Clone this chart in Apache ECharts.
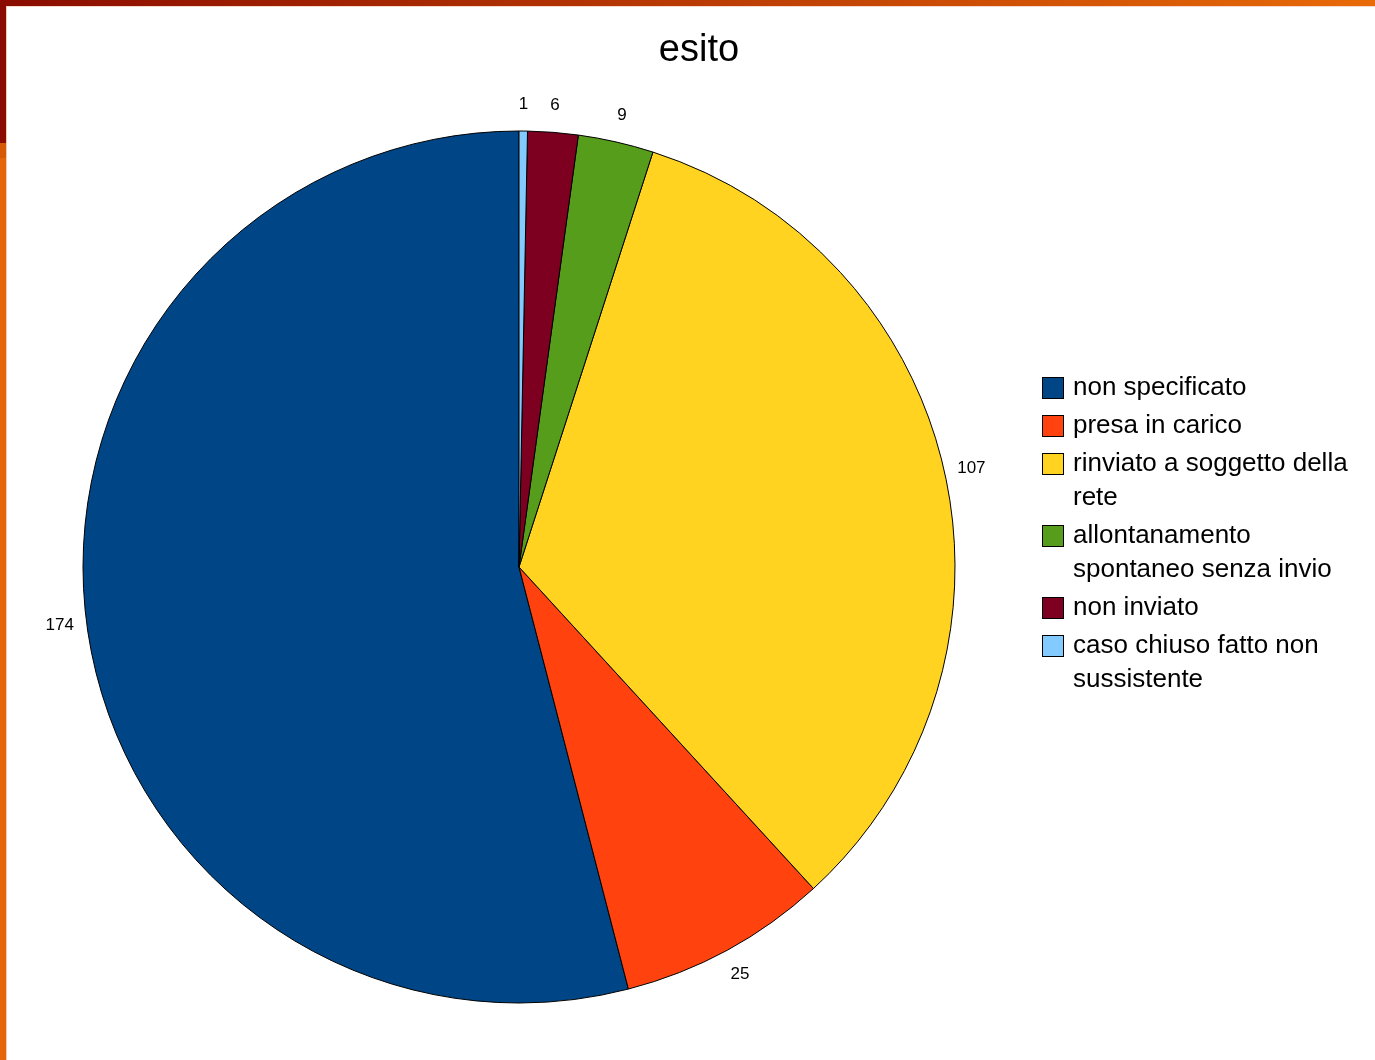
<!DOCTYPE html>
<html>
<head>
<meta charset="utf-8">
<script src="https://cdn.jsdelivr.net/npm/echarts@6/dist/echarts.min.js"></script>
<style>
html,body{margin:0;padding:0;background:#fff;}
#c{width:1375px;height:1060px;}
</style>
</head>
<body>
<div id="c"></div>
<script>
const categories = ['non specificato', 'presa in carico', 'rinviato a soggetto della rete', 'allontanamento spontaneo senza invio', 'non inviato', 'caso chiuso fatto non sussistente'];
const legendLabels = ['non specificato', 'presa in carico', 'rinviato a soggetto della\nrete', 'allontanamento\nspontaneo senza invio', 'non inviato', 'caso chiuso fatto non\nsussistente'];
const values = [174, 25, 107, 9, 6, 1];
const colors = ['#004586', '#FF420E', '#FFD320', '#579D1C', '#7E0021', '#83CAFF'];

const chart = echarts.init(document.getElementById('c'), null, {renderer: 'canvas'});
const FONT = '"Liberation Sans", Arial, sans-serif';

const rich = {
  t: {fontSize: 26, lineHeight: 34, fontFamily: FONT, color: '#000', padding: [0, 0, 0, 10]},
  p: {width: 20, height: 20}
};
colors.forEach((c, i) => {
  rich['s' + i] = {width: 20, height: 20, backgroundColor: c, borderColor: '#000', borderWidth: 1};
});

const pieData = categories.map((n, i) => ({name: n, value: values[i], itemStyle: {color: colors[i]}}));
const labelData = categories.map((n, i) => ({name: n, value: values[i]}));

chart.setOption({
  backgroundColor: '#ffffff',
  animation: false,
  color: colors,
  title: {
    text: 'esito',
    left: 694,
    textAlign: 'center',
    top: 27,
    textStyle: {fontSize: 38, fontWeight: 'normal', color: '#000', fontFamily: FONT}
  },
  legend: {
    orient: 'vertical',
    left: 1037,
    top: 371,
    padding: 0,
    itemGap: 4,
    itemWidth: 0,
    itemHeight: 0,
    itemStyle: {opacity: 0},
    selectedMode: false,
    data: categories,
    formatter: function (name) {
      const i = categories.indexOf(name);
      const lines = legendLabels[i].split('\n');
      let s = '{s' + i + '|}{t|' + lines[0] + '}';
      for (let k = 1; k < lines.length; k++) s += '\n{p|}{t|' + lines[k] + '}';
      return s;
    },
    textStyle: {rich: rich, fontSize: 26, lineHeight: 34, fontFamily: FONT}
  },
  graphic: [
    {type: 'rect', left: 0, top: 0, shape: {width: 1375, height: 6},
     style: {fill: new echarts.graphic.LinearGradient(0, 0, 1, 0, [{offset: 0, color: '#8A0C00'}, {offset: 1, color: '#E86A08'}])}},
    {type: 'rect', left: 0, top: 6, shape: {width: 1375, height: 1}, style: {fill: '#F6D9C8'}},
    {type: 'rect', left: 0, top: 0, shape: {width: 6, height: 143}, style: {fill: '#8A0C00'}},
    {type: 'rect', left: 0, top: 143, shape: {width: 6, height: 15}, style: {fill: '#D65A06'}},
    {type: 'rect', left: 0, top: 158, shape: {width: 6, height: 902}, style: {fill: '#E5650A'}},
    {type: 'rect', left: 6, top: 6, shape: {width: 1, height: 1054}, style: {fill: '#F5C8B0'}}
  ],
  series: [
    {
      type: 'pie',
      center: [519, 567],
      radius: 436,
      startAngle: 90,
      clockwise: false,
      silent: true,
      label: {show: false},
      labelLine: {show: false},
      emphasis: {disabled: true},
      itemStyle: {borderColor: '#000', borderWidth: 1},
      data: pieData
    },
    {
      type: 'pie',
      center: [519, 567],
      radius: [436, 484],
      startAngle: 90,
      clockwise: false,
      silent: true,
      emphasis: {disabled: true},
      itemStyle: {color: 'rgba(0,0,0,0)', borderWidth: 0},
      label: {show: true, position: 'inside', formatter: '{c}', fontSize: 17, color: '#000', fontFamily: FONT},
      labelLine: {show: false},
      data: labelData
    }
  ]
});
</script>
</body>
</html>
